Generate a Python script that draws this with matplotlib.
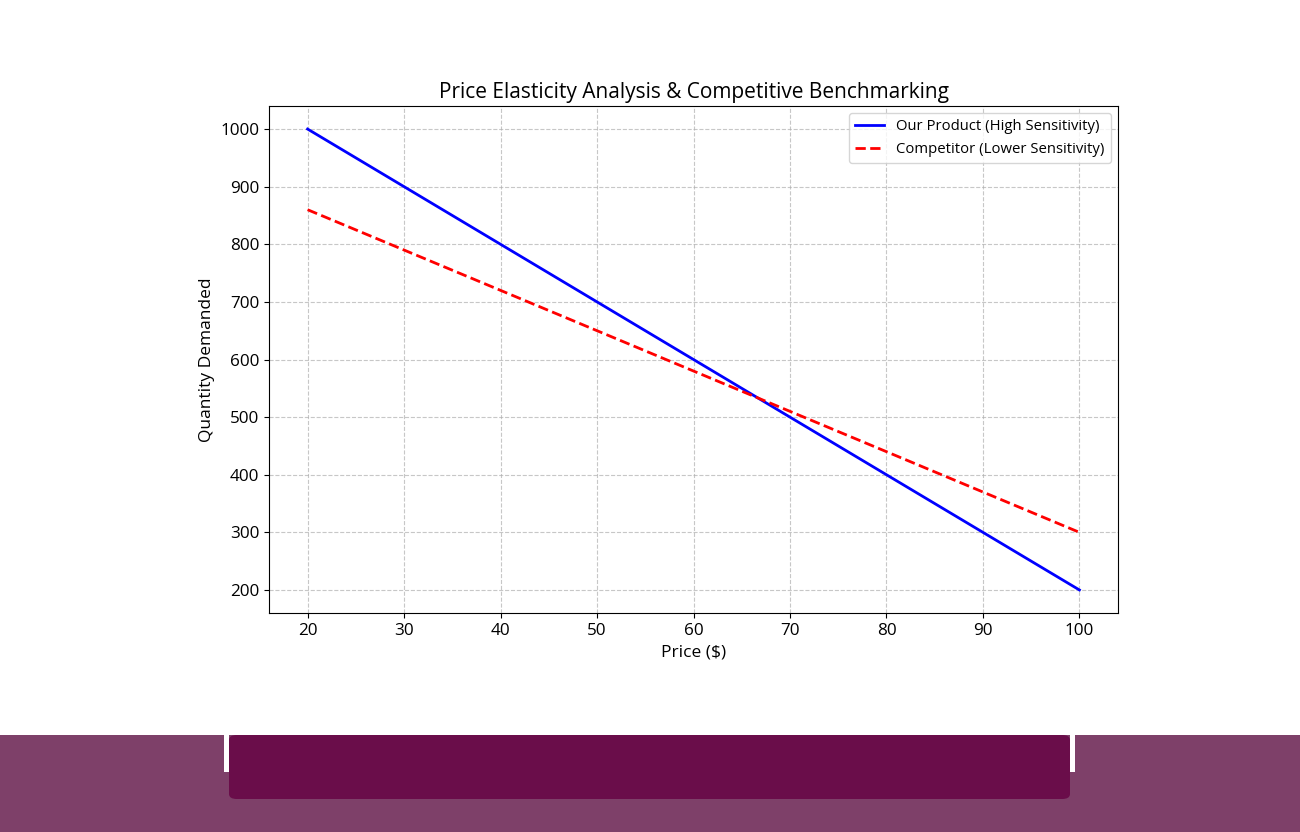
import matplotlib.pyplot as plt
from matplotlib.patches import Rectangle, FancyBboxPatch

price = [20, 30, 40, 50, 60, 70, 80, 90, 100]
our_qty = [1000, 900, 800, 700, 600, 500, 400, 300, 200]
comp_qty = [860, 790, 720, 650, 580, 510, 440, 370, 300]

plt.rcParams['font.family'] = ['Open Sans', 'DejaVu Sans']

fig = plt.figure(figsize=(13, 8.32), dpi=100)
W, H = 1300, 832

# bottom decoration
fig.patches.append(Rectangle((0, 0), 1, (832 - 735) / H, transform=fig.transFigure,
                             facecolor='#7E4069', edgecolor='none', zorder=0))
for x0, x1 in [(224, 229), (1070, 1075)]:
    fig.patches.append(Rectangle((x0 / W, (832 - 772) / H), (x1 - x0) / W, (772 - 735) / H,
                                 transform=fig.transFigure, facecolor='white', edgecolor='none', zorder=1))
fig.patches.append(FancyBboxPatch((229 / W, (832 - 799) / H), (1070 - 229) / W, (799 - 735) / H,
                                  boxstyle='round,pad=0,rounding_size=0.006',
                                  transform=fig.transFigure, facecolor='#6A0D4A',
                                  edgecolor='none', zorder=2))

ax = fig.add_axes([269 / W, (832 - 613) / H, (1118 - 269) / W, (613 - 106) / H])
ax.plot(price, our_qty, color='blue', linewidth=2, label='Our Product (High Sensitivity)')
ax.plot(price, comp_qty, color='red', linewidth=2, linestyle='--', label='Competitor (Lower Sensitivity)')
ax.set_title('Price Elasticity Analysis & Competitive Benchmarking', fontsize=15)
ax.set_xlabel('Price ($)', fontsize=12.5)
ax.set_ylabel('Quantity Demanded', fontsize=12.5)
ax.tick_params(labelsize=12.3)
ax.grid(True, linestyle='--', alpha=0.7)
ax.legend(loc='upper right', fontsize=10.7)

fig.savefig('out.png', dpi=100)
